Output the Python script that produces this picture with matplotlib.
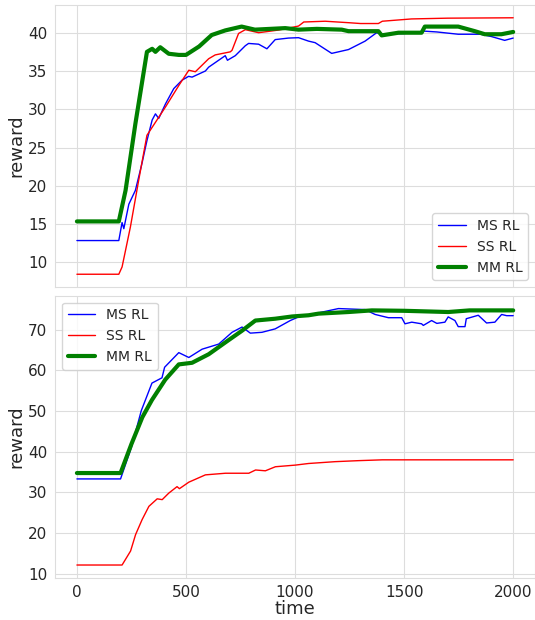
import numpy as np
import matplotlib
matplotlib.use("Agg")
import matplotlib.pyplot as plt
import seaborn as sns

# top panel
top_ms_t = [0, 192, 207, 215, 238, 268, 298, 321, 345, 360, 375, 406, 444, 482, 512, 528, 589, 604, 680, 690, 726, 772, 787,
            833, 871, 909, 970, 1016, 1062, 1092, 1168, 1245, 1321, 1374, 1400, 1500, 1595, 1650, 1748, 1850, 1900, 1961, 2000]
top_ms_v = [12.85, 12.85, 15.2, 14.4, 17.6, 19.4, 22.9, 25.9, 28.6, 29.4, 28.8, 30.7, 32.7, 33.8, 34.3, 34.2, 35.0, 35.5, 37.0,
            36.4, 37.0, 38.3, 38.6, 38.5, 37.9, 39.1, 39.3, 39.35, 38.9, 38.7, 37.3, 37.8, 38.9, 40.0, 39.8, 39.9, 40.2, 40.1,
            39.8, 39.8, 39.5, 39.0, 39.3]

top_ss_t = [0, 192, 207, 245, 283, 321, 360, 406, 467, 513, 543, 604, 634, 703, 711, 741, 772, 833, 925, 1016, 1040, 1138,
            1250, 1300, 1382, 1400, 1534, 1700, 2000]
top_ss_v = [8.45, 8.45, 9.4, 14.6, 20.7, 26.6, 28.3, 30.3, 33.1, 35.1, 34.9, 36.6, 37.1, 37.5, 37.7, 39.9, 40.4, 40.0, 40.35,
            40.87, 41.4, 41.5, 41.3, 41.2, 41.2, 41.5, 41.8, 41.9, 41.95]

top_mm_t = [0, 192, 223, 268, 321, 345, 360, 382, 421, 467, 500, 560, 618, 680, 755, 816, 955, 1016, 1100, 1214, 1245,
            1382, 1397, 1474, 1580, 1595, 1748, 1824, 1870, 1946, 2000]
top_mm_v = [15.35, 15.35, 19.4, 28.1, 37.5, 37.9, 37.5, 38.1, 37.25, 37.1, 37.1, 38.2, 39.7, 40.3, 40.8, 40.4, 40.6, 40.4,
            40.5, 40.4, 40.2, 40.2, 39.65, 40.0, 40.0, 40.8, 40.8, 40.2, 39.8, 39.8, 40.1]

# bottom panel
bot_ms_t = [0, 200, 250, 295, 344, 390, 402, 467, 513, 574, 650, 711, 757, 795, 848, 909, 978, 1016, 1108, 1199, 1321,
            1367, 1428, 1489, 1504, 1535, 1580, 1588, 1626, 1650, 1687, 1702, 1733, 1748, 1779, 1785, 1840, 1878, 1916,
            1947, 1970, 2000]
bot_ms_v = [33.3, 33.3, 41.1, 50.1, 56.9, 58.2, 60.8, 64.4, 63.2, 65.25, 66.5, 69.4, 70.7, 69.2, 69.4, 70.25, 72.3, 73.2,
            74.2, 75.25, 75.0, 73.8, 73.0, 73.0, 71.5, 71.9, 71.5, 71.1, 72.3, 71.6, 71.9, 73.2, 72.3, 70.8, 70.8, 72.75,
            73.6, 71.7, 71.9, 73.8, 73.5, 73.5]

bot_ss_t = [0, 207, 246, 269, 299, 330, 368, 391, 421, 459, 470, 513, 589, 681, 788, 819, 864, 910, 1001, 1062, 1184,
            1291, 1400, 2000]
bot_ss_v = [12.1, 12.1, 15.55, 19.6, 23.3, 26.55, 28.4, 28.2, 29.8, 31.4, 30.9, 32.5, 34.3, 34.7, 34.7, 35.5, 35.3, 36.3,
            36.7, 37.1, 37.55, 37.8, 38.0, 38.0]

bot_mm_t = [0, 200, 250, 300, 344, 405, 467, 528, 604, 680, 757, 818, 909, 986, 1062, 1108, 1245, 1352, 1500, 1702, 1800,
            2000]
bot_mm_v = [34.75, 34.75, 41.9, 48.5, 52.75, 57.75, 61.5, 61.9, 64.0, 66.9, 69.8, 72.3, 72.75, 73.3, 73.6, 74.0, 74.4,
            74.8, 74.7, 74.4, 74.8, 74.8]

sns.set_style("whitegrid", {"grid.color": "#dddddd", "axes.edgecolor": "#dddddd"})
plt.rcParams['font.family'] = ['DejaVu Sans']

fig = plt.figure(figsize=(5.35, 6.2), dpi=100)
ax1 = fig.add_axes([0.103, 0.537, 0.897, 0.455])
ax2 = fig.add_axes([0.103, 0.068, 0.897, 0.455], sharex=ax1)

for ax, ms, ss, mm in [(ax1, (top_ms_t, top_ms_v), (top_ss_t, top_ss_v), (top_mm_t, top_mm_v)),
                       (ax2, (bot_ms_t, bot_ms_v), (bot_ss_t, bot_ss_v), (bot_mm_t, bot_mm_v))]:
    ax.plot(*ms, color="blue", lw=1.0, label="MS RL")
    ax.plot(*ss, color="red", lw=1.0, label="SS RL")
    ax.plot(*mm, color="green", lw=3.0, label="MM RL")
    ax.set_ylabel("reward", fontsize=13, labelpad=2)
    ax.tick_params(labelsize=11, pad=2)

ax1.tick_params(labelbottom=False)
ax1.set_yticks([10, 15, 20, 25, 30, 35, 40])
ax2.set_yticks([10, 20, 30, 40, 50, 60, 70])
ax2.set_xticks([0, 500, 1000, 1500, 2000])
ax2.set_xlabel("time", fontsize=13, labelpad=0)
ax1.legend(loc="lower right", fontsize=10)
ax2.legend(loc="upper left", fontsize=10)

fig.savefig("out.png", dpi=100)
